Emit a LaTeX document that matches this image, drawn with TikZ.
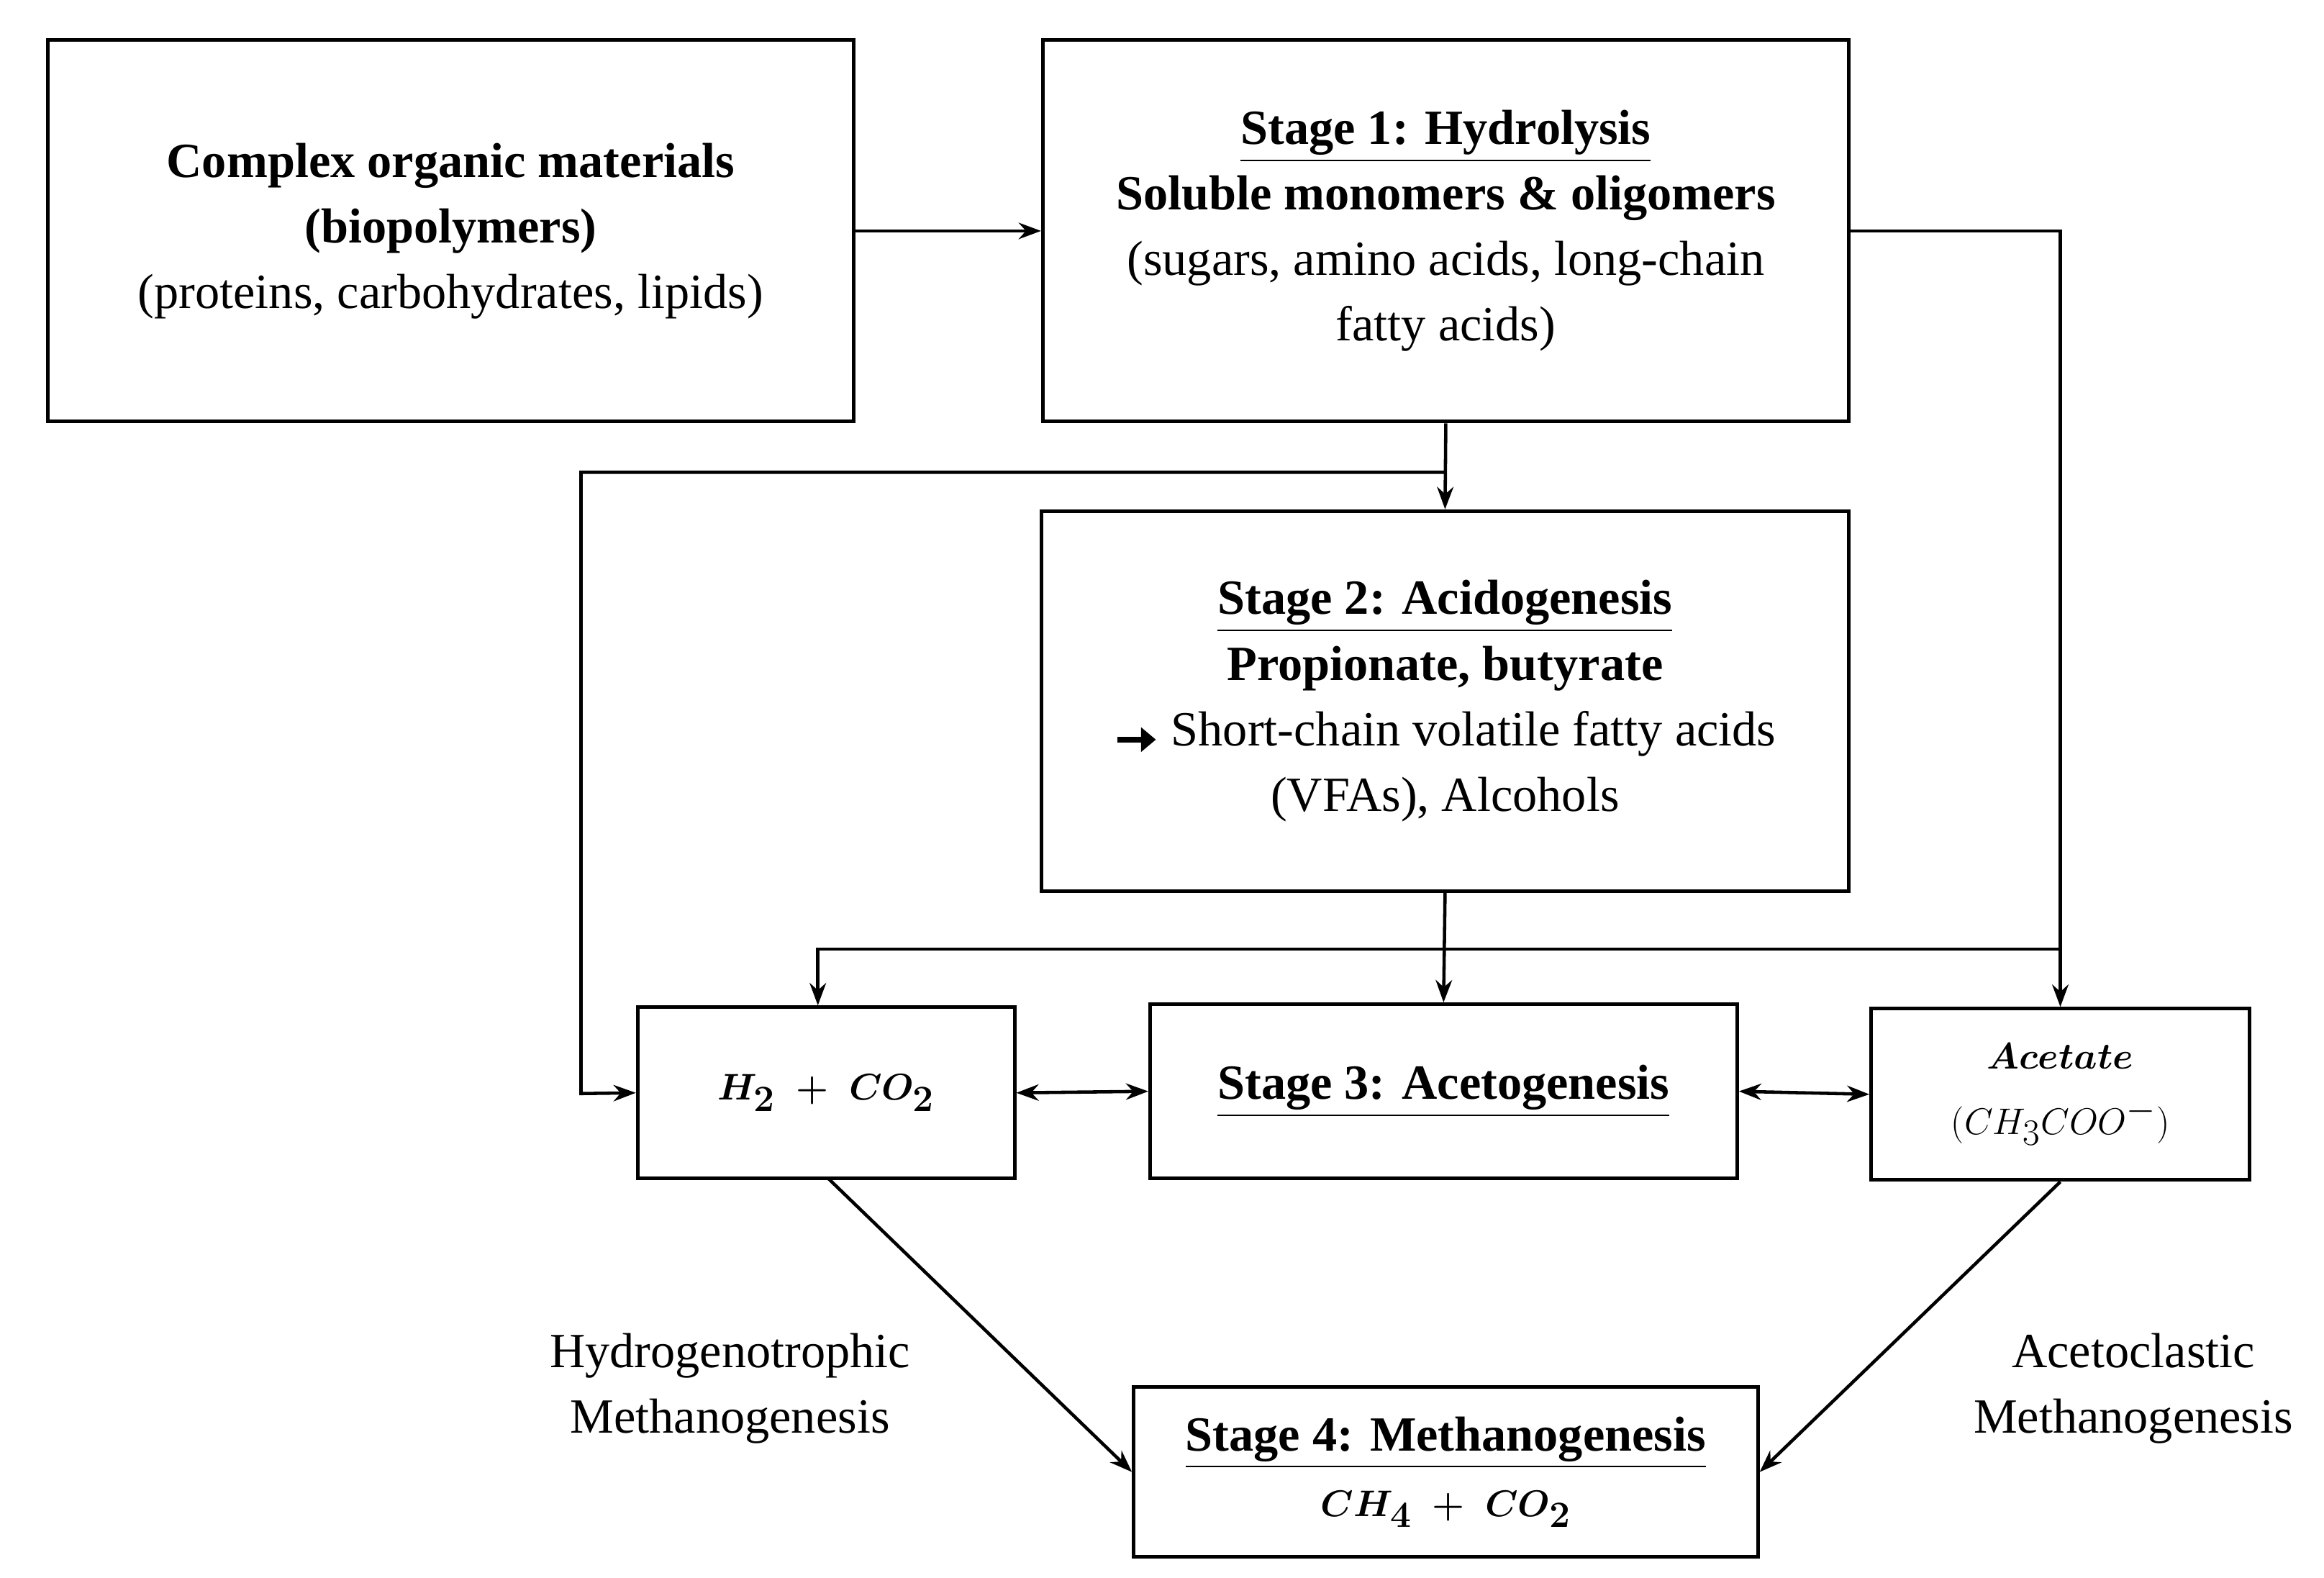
\documentclass[tikz,border=0pt]{standalone}
\usepackage{amsmath,bm}
\usepackage{fontspec}
\setmainfont{Liberation Serif}
\usetikzlibrary{arrows.meta}
\begin{document}
\begin{tikzpicture}[x=1pt,y=-1pt,
  box/.style={draw,line width=2.4pt,align=center,inner sep=0pt,font=\fontsize{33}{44}\selectfont},
  ar/.style={line width=2.2pt,-{Stealth[length=15pt,width=11pt]}},
  ln/.style={line width=2.2pt},
  lab/.style={align=center,font=\fontsize{33}{44}\selectfont}]
\useasboundingbox[fill=white] (0,0) rectangle (1560,1059);
\node[box,minimum width=541pt,minimum height=256pt] (A) at (302.5,155)
 {\textbf{Complex organic materials}\\\textbf{(biopolymers)}\\(proteins, carbohydrates, lipids)};
\node[box,minimum width=541pt,minimum height=256pt] (B) at (970.5,155)
 {\textbf{\underline{Stage 1: Hydrolysis}}\\\textbf{Soluble monomers \& oligomers}\\(sugars, amino acids, long-chain\\fatty acids)};
\node[box,minimum width=542pt,minimum height=255pt] (C) at (970,470.5)
 {\textbf{\underline{Stage 2: Acidogenesis}}\\\textbf{Propionate, butyrate}\\\tikz[baseline=-4pt]\draw[line width=4pt,-{Triangle[length=10pt,width=16pt]}](0,0)--(26pt,0); Short-chain volatile fatty acids\\(VFAs), Alcohols};
\node[box,minimum width=253pt,minimum height=115pt] (D) at (554.5,733.5) {$\bm{H_2\ +\ CO_2}$};
\node[box,minimum width=394pt,minimum height=117pt] (E) at (969,732.5) {\textbf{\underline{Stage 3: Acetogenesis}}};
\node[box,minimum width=254pt,minimum height=115pt] (F) at (1383,734.5) {$\bm{Acetate}$\\$(CH_3COO^-)$};
\node[box,minimum width=419pt,minimum height=114pt] (G) at (970.5,988) {\textbf{\underline{Stage 4: Methanogenesis}}\\$\bm{CH_4\ +\ CO_2}$};
\node[lab] (L1) at (490,932) {Hydrogenotrophic\\Methanogenesis};
\node[lab] (L2) at (1432,932) {Acetoclastic\\Methanogenesis};
\coordinate (b1) at (970,317);
\coordinate (b2) at (390,317);
\coordinate (b3) at (390,734);
\coordinate (r1) at (1383,155);
\coordinate (c1) at (970,637);
\coordinate (c2) at (549,637);
\coordinate (c3) at (1383,637);
\draw[ar] (A.east) -- (B.west);
\draw[ar] (B.east) -- (r1) -- (F.north);
\draw[ar] (B.south) -- (C.north);
\draw[ar] (b1) -- (b2) -- (b3) -- (D.west);
\draw[ar] (C.south) -- (E.north);
\draw[ar] (c2 -| c3) -- (c2) -- (D.north -| c2);
\draw[ar,{Stealth[length=15pt,width=11pt]}-{Stealth[length=15pt,width=11pt]}] (D.east) -- (E.west);
\draw[ar,{Stealth[length=15pt,width=11pt]}-{Stealth[length=15pt,width=11pt]}] (E.east) -- (F.west);
\draw[ar] (556,791) -- (G.west);
\draw[ar] (F.south) -- (G.east);
\end{tikzpicture}
\end{document}
